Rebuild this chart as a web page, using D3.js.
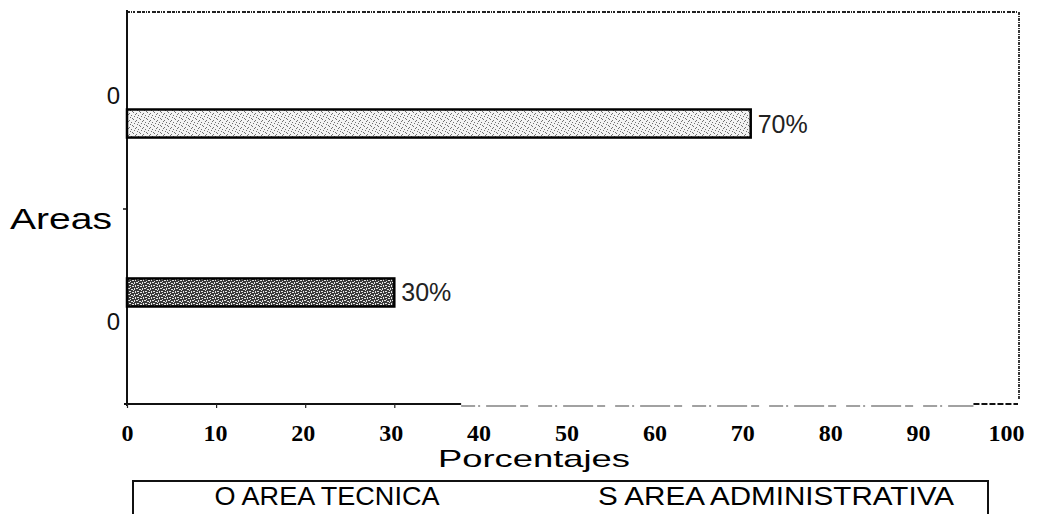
<!DOCTYPE html>
<html>
<head>
<meta charset="utf-8">
<script src="https://cdn.jsdelivr.net/npm/d3@7"></script>
<style>
  html, body { margin: 0; padding: 0; background: #fff; }
  svg { display: block; }
</style>
</head>
<body>
<svg id="chart" width="1037" height="514"></svg>
<script>
// Distribution by area (percent)
const categories = ["AREA TECNICA", "AREA ADMINISTRATIVA"];
const values = [70, 30];
const valueLabels = ["70%", "30%"];
const yTickLabels = ["0", "0"];
const xTicks = [0, 10, 20, 30, 40, 50, 60, 70, 80, 90, 100];
const legendLabels = ["O AREA TECNICA", "S AREA ADMINISTRATIVA"];

const svg = d3.select("#chart");
const plot = { left: 127, right: 1018, top: 12, bottom: 404 };
const sans = "'Liberation Sans', Arial, sans-serif";

const x = d3.scaleLinear().domain([0, 100]).range([plot.left, plot.right]);
const y = d3.scaleBand().domain(categories)
  .range([plot.top, plot.bottom])
  .paddingInner(0.834).paddingOuter(0.577);

// Stipple fills for the two bars
const defs = svg.append("defs");
const light = defs.append("pattern").attr("id", "stippleLight")
  .attr("patternUnits", "userSpaceOnUse").attr("width", 7).attr("height", 7);
light.append("rect").attr("width", 7).attr("height", 7).attr("fill", "#f3f3f3");
[[0,0],[3,1],[5,3],[1,4],[4,5],[6,6],[2,2]].forEach(([a,b]) =>
  light.append("rect").attr("x", a).attr("y", b).attr("width", 1).attr("height", 1).attr("fill", "#707070"));

const dark = defs.append("pattern").attr("id", "stippleDark")
  .attr("patternUnits", "userSpaceOnUse").attr("width", 8).attr("height", 6);
dark.append("rect").attr("width", 8).attr("height", 6).attr("fill", "#3a3a3a");
[[0,0,2,1],[3,1,2,1],[6,0,1,2],[1,3,2,1],[4,4,2,1],[7,3,1,2],[2,5,1,1],[5,2,1,1]].forEach(([a,b,w,h]) =>
  dark.append("rect").attr("x", a).attr("y", b).attr("width", w).attr("height", h).attr("fill", "#e6e6e6"));

const fills = ["url(#stippleLight)", "url(#stippleDark)"];

// Frame: grainy top edge and dashed right edge
svg.append("line")
  .attr("x1", x(0)).attr("x2", x(100)).attr("y1", plot.top).attr("y2", plot.top)
  .attr("stroke", "#222").attr("stroke-width", 1.8).attr("stroke-dasharray", "3 1 1 1 2 2 4 1");
svg.append("line")
  .attr("x1", x(100) + 1).attr("x2", x(100) + 1).attr("y1", plot.top).attr("y2", plot.bottom - 4)
  .attr("stroke", "#222").attr("stroke-width", 1.8).attr("stroke-dasharray", "3 1 1 1");

// Left axis
svg.append("line")
  .attr("x1", x(0)).attr("x2", x(0)).attr("y1", plot.top - 2).attr("y2", plot.bottom + 2)
  .attr("stroke", "#111").attr("stroke-width", 2);
svg.append("line")
  .attr("x1", x(0) - 4).attr("x2", x(0)).attr("y1", (plot.top + plot.bottom) / 2 + 1).attr("y2", (plot.top + plot.bottom) / 2 + 1)
  .attr("stroke", "#111").attr("stroke-width", 1.5);

// Bottom axis: solid start, broken remainder
svg.append("line")
  .attr("x1", x(0) - 3).attr("x2", x(37.5)).attr("y1", plot.bottom).attr("y2", plot.bottom)
  .attr("stroke", "#111").attr("stroke-width", 2);
svg.append("line")
  .attr("x1", x(37.5)).attr("x2", x(95)).attr("y1", plot.bottom + 2).attr("y2", plot.bottom + 2)
  .attr("stroke", "#444").attr("stroke-width", 1.2).attr("stroke-dasharray", "14 3 2 6 30 4 8 10");
svg.append("line")
  .attr("x1", x(95)).attr("x2", x(100)).attr("y1", plot.bottom).attr("y2", plot.bottom)
  .attr("stroke", "#111").attr("stroke-width", 2.2).attr("stroke-dasharray", "6 2");

const xAxis = d3.axisBottom(x).tickValues(xTicks).tickSize(4).tickFormat(d3.format("d"));
const gx = svg.append("g").attr("transform", `translate(0,${plot.bottom})`).call(xAxis);
gx.select(".domain").remove();
gx.selectAll(".tick line").attr("stroke", "#222").attr("stroke-width", 1.2)
  .filter(d => d > 35).remove();
gx.selectAll(".tick text")
  .attr("y", 37).attr("dy", 0)
  .attr("dx", d => -d * 0.12)
  .attr("font-family", "'Liberation Serif', 'Times New Roman', serif")
  .attr("font-weight", "bold").attr("font-size", 24).attr("fill", "#000");

// Bars
svg.selectAll("rect.bar").data(categories).join("rect")
  .attr("class", "bar")
  .attr("x", x(0))
  .attr("y", d => y(d))
  .attr("width", (d, i) => x(values[i]) - x(0))
  .attr("height", y.bandwidth())
  .attr("fill", (d, i) => fills[i])
  .attr("stroke", "#000").attr("stroke-width", 2.5);

// Value labels
svg.selectAll("text.val").data(categories).join("text")
  .attr("class", "val")
  .attr("x", (d, i) => x(values[i]) + 7)
  .attr("y", d => y(d) + y.bandwidth() / 2 + 9)
  .attr("font-family", sans)
  .attr("font-size", 25).attr("fill", "#222")
  .text((d, i) => valueLabels[i]);

// Y tick labels
svg.selectAll("text.ytick").data(categories).join("text")
  .attr("class", "ytick")
  .attr("x", x(0) - 7)
  .attr("y", (d, i) => i === 0 ? y(d) - 5 : y(d) + y.bandwidth() + 23)
  .attr("text-anchor", "end")
  .attr("font-family", sans)
  .attr("font-size", 24).attr("fill", "#111")
  .text((d, i) => yTickLabels[i]);

// Axis titles
svg.append("text")
  .attr("x", 10).attr("y", 229)
  .attr("font-family", sans)
  .attr("font-size", 30).attr("fill", "#000")
  .attr("textLength", 102).attr("lengthAdjust", "spacingAndGlyphs")
  .text("Areas");
svg.append("text")
  .attr("x", 534).attr("y", 467).attr("text-anchor", "middle")
  .attr("font-family", sans)
  .attr("font-size", 24).attr("fill", "#000")
  .attr("textLength", 192).attr("lengthAdjust", "spacingAndGlyphs")
  .text("Porcentajes");

// Legend box (runs off the bottom edge)
const lg = { left: 133, right: 988, top: 481 };
svg.append("path")
  .attr("d", `M${lg.left},520 V${lg.top} H${lg.right} V520`)
  .attr("fill", "none").attr("stroke", "#111").attr("stroke-width", 2);
const legendX = [327, 776];
const legendW = [225, 356];
svg.selectAll("text.leg").data(legendLabels).join("text")
  .attr("class", "leg")
  .attr("x", (d, i) => legendX[i]).attr("y", 505)
  .attr("text-anchor", "middle")
  .attr("font-family", sans)
  .attr("font-size", 26).attr("fill", "#000")
  .attr("textLength", (d, i) => legendW[i]).attr("lengthAdjust", "spacingAndGlyphs")
  .text(d => d);
</script>
</body>
</html>
